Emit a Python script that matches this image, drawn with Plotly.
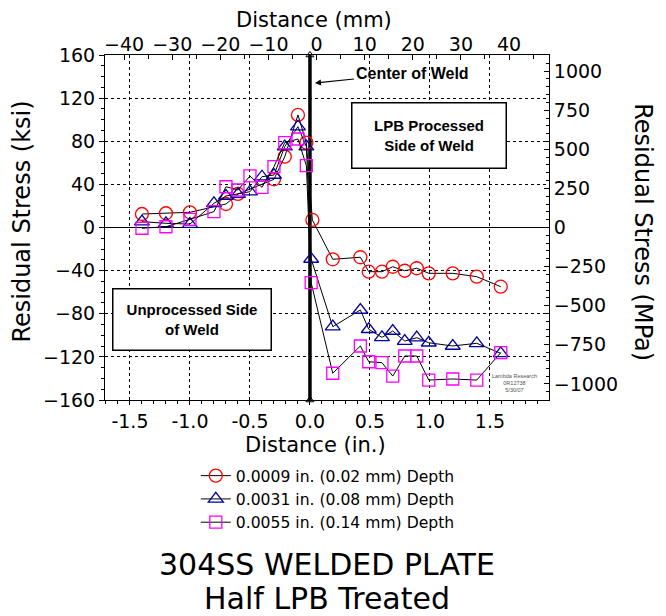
import plotly.graph_objects as go

# ---------------- data (distance in inches, stress in ksi) ----------------
x_red = [-1.4, -1.2, -1.0, -0.7, -0.6, -0.3, -0.21, -0.1, -0.03, 0.02,
         0.19, 0.42, 0.49, 0.6, 0.69, 0.79, 0.89, 0.99, 1.19, 1.39, 1.59]
y_red = [12.5, 13.2, 14.1, 21.8, 31.1, 44.7, 65.7, 104.4, 78.7, 7.0,
         -29.5, -27.6, -41.0, -41.0, -36.4, -40.1, -37.8, -42.5, -42.5, -45.6, -54.9]

x_blue = [-1.4, -1.2, -1.0, -0.8, -0.7, -0.6, -0.5, -0.4, -0.3, -0.21, -0.1, -0.03, 0.01,
          0.19, 0.42, 0.49, 0.6, 0.69, 0.79, 0.89, 0.99, 1.19, 1.39, 1.59]
y_blue = [5.4, 3.9, 3.2, 22.4, 29.2, 31.0, 33.2, 47.1, 48.7, 75.0, 93.5, 75.0, -29.2,
          -92.0, -76.5, -94.4, -101.9, -96.0, -105.3, -102.2, -106.9, -109.9, -107.4, -116.7]

x_mag = [-1.4, -1.2, -1.0, -0.8, -0.7, -0.6, -0.5, -0.4, -0.3, -0.21, -0.1, -0.03, 0.01,
         0.19, 0.42, 0.49, 0.6, 0.69, 0.79, 0.89, 0.99, 1.19, 1.39, 1.59]
y_mag = [-0.7, 0.7, 7.6, 14.7, 37.8, 34.8, 47.8, 37.3, 56.4, 78.7, 82.1, 57.3, -51.2,
         -135.2, -109.9, -124.5, -125.4, -137.8, -119.2, -119.2, -141.5, -140.5, -141.5, -116.1]

series_names = ["0.0009 in. (0.02 mm) Depth",
                "0.0031 in. (0.08 mm) Depth",
                "0.0055 in. (0.14 mm) Depth"]

title_lines = ["304SS WELDED PLATE", "Half LPB Treated"]

weld_x = [0.0, 0.0]
weld_y = [-160, 160]

x_ticks_in = [-1.5, -1.0, -0.5, 0.0, 0.5, 1.0, 1.5]
x_ticktext_in = ["-1.5", "-1.0", "-0.5", "0.0", "0.5", "1.0", "1.5"]
x_ticks_mm = [-40, -30, -20, -10, 0, 10, 20, 30, 40]
y_ticks_ksi = [-160, -120, -80, -40, 0, 40, 80, 120, 160]
y_ticks_mpa = [-1000, -750, -500, -250, 0, 250, 500, 750, 1000]

KSI_TO_MPA = 6.894757
X_RANGE = [-1.708, 1.992]
Y_RANGE = [-160, 160]
MM_RANGE = [-43.96, 48.3]

TICKFONT = dict(family="DejaVu Sans", size=19, color="black")

fig = go.Figure()

fig.add_trace(go.Scatter(
    x=weld_x, y=weld_y, mode="lines+markers",
    line=dict(color="black", width=3.5),
    marker=dict(symbol="triangle-up-open", size=7, color="black", line=dict(width=1)),
    showlegend=False, hoverinfo="skip", cliponaxis=False))

styles = [
    dict(symbol="circle-open", color="#FF0000", size=13),
    dict(symbol="triangle-up-open", color="#0000A0", size=13),
    dict(symbol="square-open", color="#FF00FF", size=12),
]
for xs, ys, name, st in zip([x_red, x_blue, x_mag], [y_red, y_blue, y_mag], series_names, styles):
    fig.add_trace(go.Scatter(
        x=xs, y=ys, name=name, mode="lines+markers",
        line=dict(color="black", width=1),
        marker=dict(symbol=st["symbol"], size=st["size"], color=st["color"],
                    line=dict(color=st["color"], width=1.3)),
        cliponaxis=False))

# empty trace so the secondary (mm / MPa) axes are rendered
fig.add_trace(go.Scatter(x=[None], y=[None], xaxis="x2", yaxis="y2",
                         showlegend=False, hoverinfo="skip"))

fig.update_layout(
    width=658, height=608,
    margin=dict(l=97, r=117, t=47, b=216),
    paper_bgcolor="white", plot_bgcolor="white",
    font=dict(family="DejaVu Sans", color="black"),
    showlegend=True,
    legend=dict(x=0.2045, y=-0.171, xanchor="left", yanchor="top",
                font=dict(family="DejaVu Sans", size=15.6, color="black"),
                bgcolor="rgba(0,0,0,0)", tracegroupgap=0),
    xaxis=dict(range=X_RANGE, tickmode="array", tickvals=x_ticks_in, ticktext=x_ticktext_in,
               ticks="outside", ticklen=4, tickcolor="black", tickfont=TICKFONT,
               showline=True, linecolor="black", linewidth=1,
               showgrid=True, gridcolor="black", griddash="dot", gridwidth=1,
               zeroline=False,
               minor=dict(tickmode="linear", tick0=0, dtick=0.1, ticks="outside",
                          ticklen=3, tickcolor="black", showgrid=False)),
    yaxis=dict(range=Y_RANGE, tickmode="array", tickvals=y_ticks_ksi,
               ticks="outside", ticklen=5, tickcolor="black", tickfont=TICKFONT,
               showline=True, linecolor="black", linewidth=1,
               showgrid=True, gridcolor="black", griddash="dot", gridwidth=1,
               zeroline=True, zerolinecolor="black", zerolinewidth=1.2,
               minor=dict(tickmode="linear", tick0=0, dtick=10, ticks="outside",
                          ticklen=3, tickcolor="black", showgrid=False)),
    xaxis2=dict(overlaying="x", side="top", anchor="y", range=MM_RANGE,
                tickmode="array", tickvals=x_ticks_mm,
                ticks="inside", ticklen=5, tickcolor="black", tickfont=TICKFONT,
                ticklabelstandoff=-5,
                showline=True, linecolor="black", linewidth=1,
                showgrid=False, zeroline=False,
                minor=dict(tickmode="linear", tick0=0, dtick=5, ticks="inside",
                           ticklen=4, tickcolor="black", showgrid=False)),
    yaxis2=dict(overlaying="y", side="right", anchor="x",
                range=[Y_RANGE[0] * KSI_TO_MPA, Y_RANGE[1] * KSI_TO_MPA],
                tickmode="array", tickvals=y_ticks_mpa,
                ticks="inside", ticklen=5, tickcolor="black", tickfont=TICKFONT,
                showline=True, linecolor="black", linewidth=1,
                showgrid=False, zeroline=False,
                minor=dict(tickmode="linear", tick0=0, dtick=50, ticks="inside",
                           ticklen=3, tickcolor="black", showgrid=False)),
)

AXTITLE = dict(family="DejaVu Sans", size=21, color="black")
VTITLE = dict(family="DejaVu Sans", size=24, color="black")
TITLEFONT = dict(family="DejaVu Sans", size=30, color="black")
annotations = [
    dict(text=title_lines[0], xref="paper", yref="paper",
         x=0.5, y=-0.478, xanchor="center", yanchor="middle", showarrow=False, font=TITLEFONT),
    dict(text=title_lines[1], xref="paper", yref="paper",
         x=0.5, y=-0.574, xanchor="center", yanchor="middle", showarrow=False, font=TITLEFONT),
    dict(text="Distance (in.)", xref="paper", yref="paper", x=0.475, y=-0.13,
         xanchor="center", yanchor="middle", showarrow=False, font=AXTITLE),
    dict(text="Distance (mm)", xref="paper", yref="paper", x=0.47, y=1.1,
         xanchor="center", yanchor="middle", showarrow=False, font=AXTITLE),
    dict(text="Residual Stress (ksi)", xref="paper", yref="paper", x=-0.187, y=0.517,
         xanchor="center", yanchor="middle", textangle=-90, showarrow=False, font=VTITLE),
    dict(text="Residual Stress (MPa)", xref="paper", yref="paper", x=1.212, y=0.486,
         xanchor="center", yanchor="middle", textangle=90, showarrow=False, font=VTITLE),
    dict(text="<b>LPB Processed<br>Side of Weld</b>", xref="x", yref="y", x=0.996, y=84.9,
         showarrow=False, width=151, height=62, bordercolor="black", borderwidth=1.5,
         bgcolor="white", font=dict(family="Liberation Sans", size=15, color="black")),
    dict(text="<b>Unprocessed Side<br>of Weld</b>", xref="x", yref="y", x=-0.979, y=-84.9,
         showarrow=False, width=155, height=58, bordercolor="black", borderwidth=1.5,
         bgcolor="white", font=dict(family="Liberation Sans", size=15, color="black")),
    dict(text="<b>Center of Weld</b>", xref="x", yref="y", x=0.042, y=134,
         ax=97, ay=-10, showarrow=True, arrowhead=2, arrowsize=1, arrowwidth=1.2,
         arrowcolor="black", font=dict(family="Liberation Sans", size=16, color="black")),
    dict(text="Lambda Research<br>0R12738<br>5/30/07", xref="x", yref="y", x=1.708, y=-144.2,
         showarrow=False, font=dict(family="Liberation Sans", size=5.5, color="#555555")),
]
fig.update_layout(annotations=annotations)

fig.write_html("out.html")
